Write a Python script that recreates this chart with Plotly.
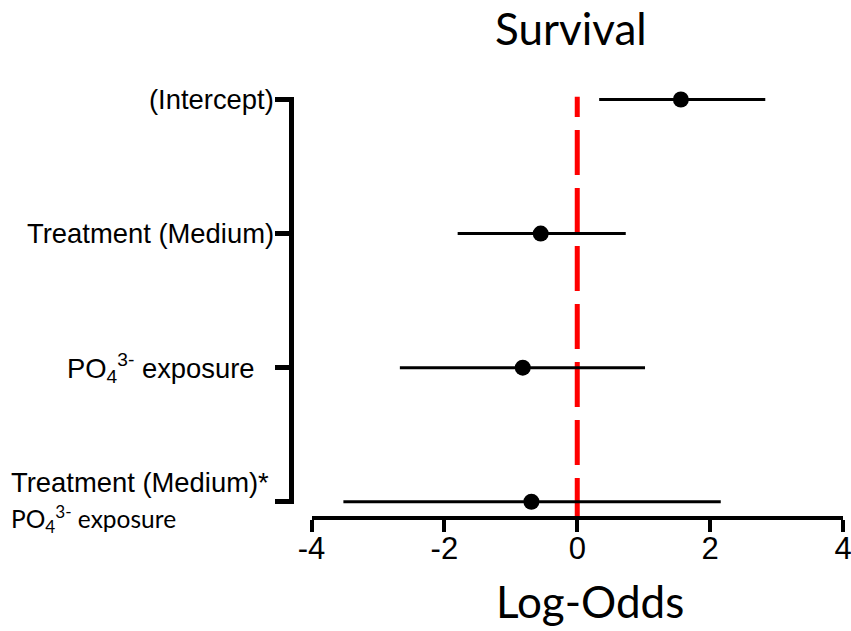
import plotly.graph_objects as go

# Model terms (top to bottom) and their log-odds estimates with 95% CIs
terms = ["(Intercept)", "Treatment (Medium)", "PO4 exposure", "Treatment (Medium)*PO4 exposure"]
estimate = [1.56, -0.55, -0.82, -0.69]
ci_low = [0.33, -1.80, -2.67, -3.52]
ci_high = [2.83, 0.73, 1.02, 2.16]

# vertical positions: first term at the top
ypos = [3, 2, 1, 0]

x_ticks = [-4, -2, 0, 2, 4]
x_ticktext = ["-4", "-2", "0", "2", "4"]

W, H = 851, 631


def px_x(p):
    return p / W


def px_y(p):
    return (H - p) / H


arial = "Liberation Sans, Arial, sans-serif"
calibri = "Lato, Carlito, Calibri, sans-serif"

fig = go.Figure()

fig.add_trace(go.Scatter(
    x=estimate,
    y=ypos,
    mode="markers",
    marker=dict(color="black", size=16, symbol="circle"),
    error_x=dict(
        type="data",
        symmetric=False,
        array=[h - e for h, e in zip(ci_high, estimate)],
        arrayminus=[e - l for e, l in zip(estimate, ci_low)],
        color="black",
        thickness=3,
        width=0,
    ),
    cliponaxis=False,
    showlegend=False,
    hoverinfo="skip",
))

# reference line at zero log-odds
fig.add_shape(
    type="line",
    xref="x", yref="paper",
    x0=0, x1=0,
    y0=px_y(518), y1=px_y(96.7),
    line=dict(color="#ff0000", width=5,
              dash="40px,13px,45px,13px,45px,13px,45px,13px,45px,13px,45px,13px,45px,13px,45px,13px,45px"),
    layer="below",
)

annotations = []
label_specs = [
    ("(Intercept)", 276, 3, 0, arial, 27.4),
    ("Treatment (Medium)", 276, 2, 0, arial, 27.4),
    ("PO<sub>4</sub><sup>3-</sup> exposure", 257, 1, 0, arial, 27.4),
    ("Treatment (Medium)*", 271, 0, 19, arial, 27.4),
]
for text, xr, yv, ysh, fam, sz in label_specs:
    annotations.append(dict(
        text=text, xref="paper", yref="y", x=px_x(xr), y=yv, yshift=ysh,
        xanchor="right", yanchor="middle", showarrow=False,
        font=dict(family=fam, size=sz, color="black"),
    ))
annotations.append(dict(
    text="PO<sub>4</sub><sup>3-</sup> exposure", xref="paper", yref="y",
    x=px_x(9), y=0, yshift=-17,
    xanchor="left", yanchor="middle", showarrow=False,
    font=dict(family=calibri, size=24.5, color="black"),
))
annotations.append(dict(
    text="Survival", xref="paper", yref="paper", x=px_x(571), y=px_y(28),
    xanchor="center", yanchor="middle", showarrow=False,
    font=dict(family=calibri, size=44, color="black"),
))
annotations.append(dict(
    text="Log-Odds", xref="paper", yref="paper", x=px_x(589.5), y=px_y(601),
    xanchor="center", yanchor="middle", showarrow=False,
    font=dict(family=calibri, size=44, color="black"),
))

fig.update_layout(
    width=W, height=H,
    margin=dict(l=0, r=0, t=0, b=0),
    paper_bgcolor="white",
    plot_bgcolor="white",
    annotations=annotations,
    xaxis=dict(
        domain=[px_x(311.5), px_x(843)],
        range=[-4, 4],
        anchor="free", position=px_y(518),
        tickvals=x_ticks, ticktext=x_ticktext,
        ticks="outside", ticklen=12, tickwidth=4, tickcolor="black",
        ticklabeloverflow="allow", ticklabelstandoff=-10,
        showline=True, linewidth=4, linecolor="black",
        showgrid=False, zeroline=False,
        tickfont=dict(family=arial, size=31, color="black"),
        automargin=False, fixedrange=True,
    ),
    yaxis=dict(
        domain=[px_y(504), px_y(97)],
        range=[-0.017, 3.0186],
        anchor="free", position=px_x(291),
        tickvals=ypos, showticklabels=False,
        ticks="outside", ticklen=14, tickwidth=5, tickcolor="black",
        showline=True, linewidth=5, linecolor="black",
        showgrid=False, zeroline=False,
        automargin=False, fixedrange=True,
    ),
)

fig.write_html("out.html")
